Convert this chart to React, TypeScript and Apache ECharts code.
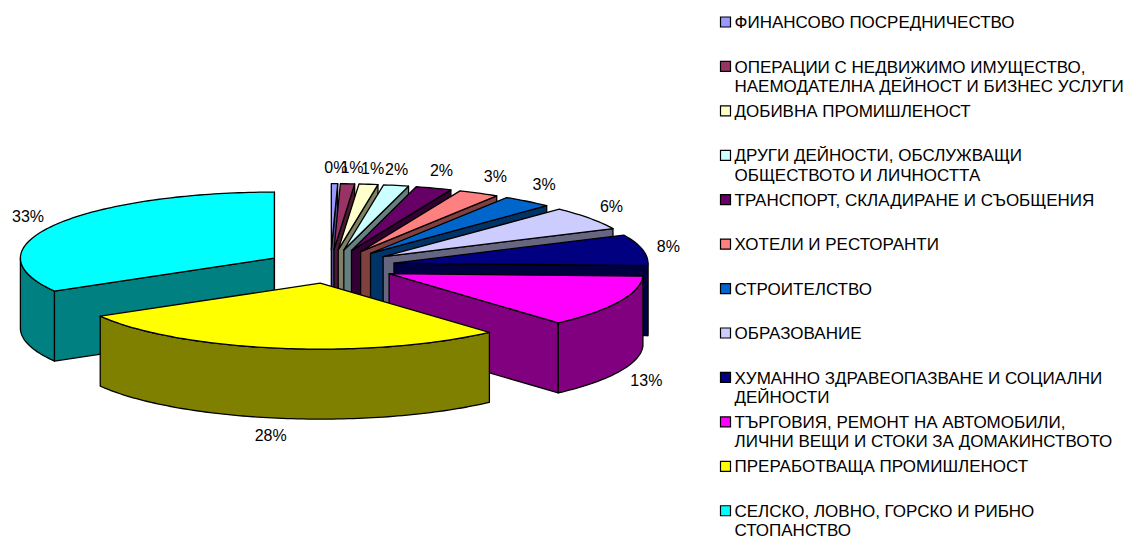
import React, { useEffect, useRef } from "react";
import * as echarts from "echarts";

const categories = [
  "ФИНАНСОВО ПОСРЕДНИЧЕСТВО",
  "ОПЕРАЦИИ С НЕДВИЖИМО ИМУЩЕСТВО,\nНАЕМОДАТЕЛНА ДЕЙНОСТ И БИЗНЕС УСЛУГИ",
  "ДОБИВНА ПРОМИШЛЕНОСТ",
  "ДРУГИ ДЕЙНОСТИ, ОБСЛУЖВАЩИ\nОБЩЕСТВОТО И ЛИЧНОСТТА",
  "ТРАНСПОРТ, СКЛАДИРАНЕ И СЪОБЩЕНИЯ",
  "ХОТЕЛИ И РЕСТОРАНТИ",
  "СТРОИТЕЛСТВО",
  "ОБРАЗОВАНИЕ",
  "ХУМАННО ЗДРАВЕОПАЗВАНЕ И СОЦИАЛНИ\nДЕЙНОСТИ",
  "ТЪРГОВИЯ, РЕМОНТ НА АВТОМОБИЛИ,\nЛИЧНИ ВЕЩИ И СТОКИ ЗА ДОМАКИНСТВОТО",
  "ПРЕРАБОТВАЩА ПРОМИШЛЕНОСТ",
  "СЕЛСКО, ЛОВНО, ГОРСКО И РИБНО\nСТОПАНСТВО",
];
const shares = [0.4, 0.9, 1.2, 1.6, 2.3, 2.6, 3.2, 5.8, 7.6, 12.8, 28.27, 33.33];
const topColors = ["#9999FF", "#993366", "#FFFFCC", "#CCFFFF", "#660066", "#FF8080", "#0066CC", "#CCCCFF", "#000080", "#FF00FF", "#FFFF00", "#00FFFF"];
const sideColors = ["#4C4C80", "#4C1933", "#808066", "#668080", "#330033", "#804040", "#003366", "#666680", "#000040", "#800080", "#808000", "#008080"];
const labelNudgeX = [1, 3, 1, -5, -1, 4, 0, 0, -1, 3, -5, -3];
const labelNudgeY = [2, 2, 2, 2, -1, -1, -3, -1, 0, 1, -1, 0];
const drawOrder = [11, 0, 1, 2, 3, 4, 5, 6, 7, 8, 9, 10];

const FONT = "Liberation Sans, Arial, sans-serif";
const LABEL_SIZE = 16;
const LEGEND_SIZE = 17;
const CX = 330.5, CY = 266.5, RX = 254, RY = 66, DEPTH = 70, EXPLODE = 0.255;
const total = shares.reduce((s, v) => s + v, 0);
const startAngles = shares.map((_, i) => (shares.slice(0, i).reduce((s, v) => s + v, 0) / total) * Math.PI * 2);

function renderSlice(params: any, api: any) {
  const idx = api.value(1) as number;
  const value = api.value(0) as number;
  const a0 = startAngles[idx];
  const a1 = a0 + (value / total) * Math.PI * 2;
  const mid = (a0 + a1) / 2;
  const ox = CX + EXPLODE * RX * Math.sin(mid);
  const oy = CY - EXPLODE * RY * Math.cos(mid);
  const pt = (t: number, d = 0) => [ox + RX * Math.sin(t), oy - RY * Math.cos(t) + d];
  const arc = (from: number, to: number, d = 0) => {
    const n = Math.max(2, Math.ceil(Math.abs(to - from) / 0.02));
    const out: number[][] = [];
    for (let i = 0; i <= n; i++) out.push(pt(from + ((to - from) * i) / n, d));
    return out;
  };
  const line = { stroke: "#000", lineWidth: 1.3, lineJoin: "round" };
  const children: any[] = [];
  const poly = (points: number[][], fill: string) =>
    children.push({ type: "polygon", shape: { points }, style: { fill, ...line } });
  const side = sideColors[idx];
  const apexLow = [ox, oy + DEPTH];
  const apex = [ox, oy];
  if (Math.sin(a0) < -1e-6) poly([apex, pt(a0), pt(a0, DEPTH), apexLow], side);
  if (Math.sin(a1) > -1e-6 && a1 < Math.PI * 1.5) poly([apex, pt(a1), pt(a1, DEPTH), apexLow], side);
  if (idx === shares.length - 1) poly([apex, pt(a1), pt(a1, DEPTH), apexLow], side);
  const rimFrom = Math.max(a0, Math.PI / 2);
  const rimTo = Math.min(a1, Math.PI * 1.5);
  if (rimTo > rimFrom) poly([...arc(rimFrom, rimTo), ...arc(rimTo, rimFrom, DEPTH)], side);
  poly([apex, ...arc(a0, a1)], topColors[idx]);
  const isFront = Math.cos(mid) < 0;
  const rim = pt(mid, isFront ? DEPTH : 0);
  children.push({
    type: "text",
    z2: 50,
    style: {
      text: Math.round((value / total) * 100) + "%",
      x: rim[0] + 27 * Math.sin(mid) + labelNudgeX[idx],
      y: rim[1] - 18 * Math.cos(mid) + labelNudgeY[idx],
      align: "center",
      verticalAlign: "middle",
      font: `${LABEL_SIZE}px ${FONT}`,
      fill: "#000",
    },
  });
  return { type: "group", children };
}

const LEGEND_TOP = 22, LEGEND_STEP = 44.43;

export default function App() {
  const ref = useRef<HTMLDivElement>(null);
  useEffect(() => {
    if (!ref.current) return;
    const chart = echarts.init(ref.current, undefined, { renderer: "svg" });
    const graphic: any[] = [];
    categories.forEach((name, i) => {
      const y = LEGEND_TOP + i * LEGEND_STEP;
      graphic.push({
        type: "rect",
        shape: { x: 720.5, y: y - 5, width: 10, height: 10 },
        style: { fill: topColors[i], stroke: "#000", lineWidth: 1.2 },
      });
      graphic.push({
        type: "text",
        style: {
          text: name,
          x: 734.5,
          y: y - 9,
          font: `${LEGEND_SIZE}px ${FONT}`,
          lineHeight: 19.2,
          fill: "#000",
          verticalAlign: "top",
        },
      });
    });
    chart.setOption({
      animation: false,
      backgroundColor: "#fff",
      graphic,
      series: [
        {
          type: "custom",
          coordinateSystem: "none",
          renderItem: renderSlice,
          silent: true,
          data: drawOrder.map((i) => [shares[i], i]),
          encode: { value: 0 },
        },
      ],
    });
    return () => chart.dispose();
  }, []);
  return <div ref={ref} style={{ position: "absolute", left: 0, top: 0, width: 1126, height: 536 }} />;
}
